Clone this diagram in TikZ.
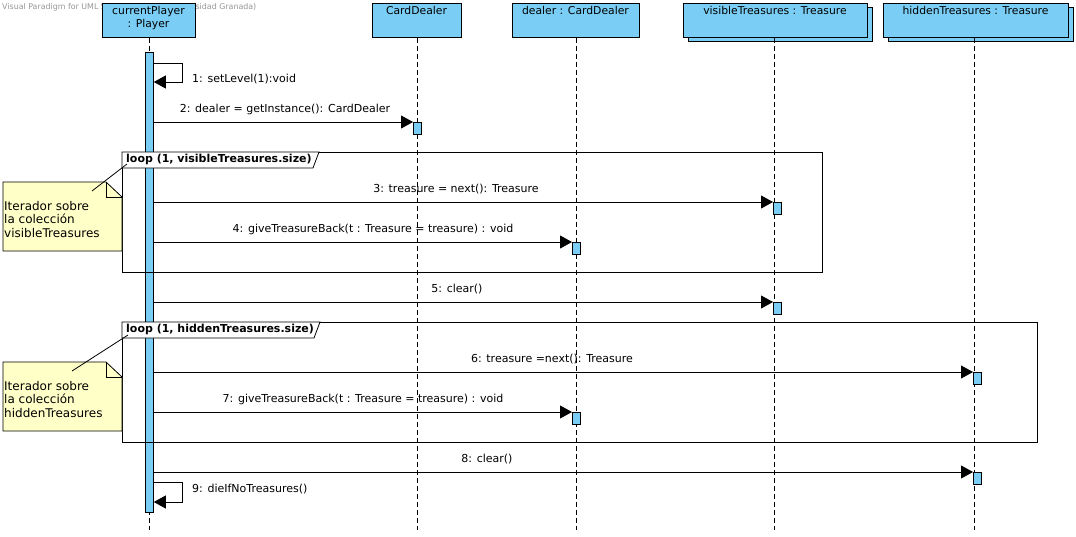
\documentclass[tikz,border=0pt]{standalone}
\usepackage{fontspec}
\setmainfont{DejaVu Sans}
\usetikzlibrary{arrows.meta}
\definecolor{vpblue}{RGB}{122,206,245}
\definecolor{notefill}{RGB}{255,255,200}
\definecolor{wmgray}{RGB}{150,150,150}

\begin{document}
\begin{tikzpicture}[x=1pt,y=-1pt,
  objbox/.style={draw, fill=vpblue, line width=1pt, inner sep=0pt, anchor=north west},
  objtext/.style={font=\fontsize{10.8}{13}\selectfont, align=center, inner sep=0pt, anchor=north},
  lifeline/.style={line width=0.8pt, dash pattern=on 5pt off 3pt},
  actbar/.style={draw, fill=vpblue, line width=0.8pt, inner sep=0pt, minimum width=8pt, minimum height=12pt, anchor=north west},
  msg/.style={line width=0.8pt, -{Triangle[length=12pt,width=13pt]}},
  msglabel/.style={font=\fontsize{11}{12}\selectfont, inner sep=0pt},
  frame/.style={draw, line width=0.8pt, inner sep=0pt, anchor=north west},
  frametab/.style={draw, fill=white, line width=0.8pt},
  framelabel/.style={font=\bfseries\fontsize{11}{12}\selectfont, inner sep=0pt, anchor=west},
  notebody/.style={draw, fill=notefill, line width=0.8pt},
  notetext/.style={font=\fontsize{12}{13.5}\selectfont, align=left, inner sep=0pt, anchor=north west},
]
\useasboundingbox (0,0) rectangle (1076,536);

% tool watermark, partly hidden behind the first lifeline head
\node[font=\fontsize{7.9}{8}\selectfont, text=wmgray, inner sep=0pt, anchor=west] (wm) at (2,7)
  {Visual Paradigm for UML Standard Edition(Universidad Granada)};

% ---- lifeline heads ----
\node[objbox, minimum width=93pt, minimum height=34pt] (player) at (102,3) {};
\node[objtext] (playerT) at (148.5,6) {currentPlayer\\: Player};

\node[objbox, minimum width=89pt, minimum height=34pt] (cd) at (372,3) {};
\node[objtext] (cdT) at (416.5,6) {CardDealer};

\node[objbox, minimum width=127pt, minimum height=34pt] (dealer) at (512,3) {};
\node[objtext] (dealerT) at (575.5,6) {dealer : CardDealer};

\node[objbox, minimum width=184pt, minimum height=34pt] (visB) at (688,7) {};
\node[objbox, minimum width=184pt, minimum height=34pt] (vis) at (683,3) {};
\node[objtext] (visT) at (775,6) {visibleTreasures : Treasure};

\node[objbox, minimum width=185pt, minimum height=34pt] (hidB) at (888,7) {};
\node[objbox, minimum width=185pt, minimum height=34pt] (hid) at (883,3) {};
\node[objtext] (hidT) at (975.5,6) {hiddenTreasures : Treasure};

% ---- lifelines ----
\coordinate (playerEnd) at (149,530);
\coordinate (cdEnd) at (417,530);
\coordinate (dealerEnd) at (576,530);
\coordinate (visEnd) at (774,530);
\coordinate (hidEnd) at (974,530);
\draw[lifeline] (player.south -| playerEnd) -- (playerEnd);
\draw[lifeline] (cd.south -| cdEnd) -- (cdEnd);
\draw[lifeline] (dealer.south -| dealerEnd) -- (dealerEnd);
\draw[lifeline] (vis.south -| visEnd) -- (visEnd);
\draw[lifeline] (hid.south -| hidEnd) -- (hidEnd);

% ---- activation bars ----
\node[actbar, minimum height=460pt] (pbar) at (145,52) {};
\node[actbar] (a2) at (413,122) {};
\node[actbar] (a3) at (773,202) {};
\node[actbar] (a4) at (572,242) {};
\node[actbar] (a5) at (773,302) {};
\node[actbar] (a6) at (973,372) {};
\node[actbar] (a7) at (572,412) {};
\node[actbar] (a8) at (973,472) {};

% ---- combined fragments ----
\node[frame, minimum width=700pt, minimum height=120pt] (loop1) at (122,152) {};
\draw[frametab] (122,152) -- (319,152) -- (313,168) -- (122,168) -- cycle;
\node[framelabel] (loop1T) at (126,159.5) {loop (1, visibleTreasures.size)};

\node[frame, minimum width=915pt, minimum height=120pt] (loop2) at (122,322) {};
\draw[frametab] (122,322) -- (320,322) -- (314,338) -- (122,338) -- cycle;
\node[framelabel] (loop2T) at (126,329.5) {loop (1, hiddenTreasures.size)};

% ---- messages ----
\draw[msg] (pbar.east |- 0,63) -- (182,63) -- (182,82) -- (pbar.east |- 0,82);
\node[msglabel, anchor=west] (m1) at (192,79.5) {1: setLevel(1):void};

\draw[msg] (pbar.east |- a2.north west) -- (a2.north west);
\node[msglabel] (m2) at (285,109.5) {2: dealer = getInstance(): CardDealer};

\draw[msg] (pbar.east |- a3.north west) -- (a3.north west);
\node[msglabel] (m3) at (456,189.5) {3: treasure = next(): Treasure};

\draw[msg] (pbar.east |- a4.north west) -- (a4.north west);
\node[msglabel] (m4) at (373,229.5) {4: giveTreasureBack(t : Treasure = treasure) : void};

\draw[msg] (pbar.east |- a5.north west) -- (a5.north west);
\node[msglabel] (m5) at (457,289.5) {5: clear()};

\draw[msg] (pbar.east |- a6.north west) -- (a6.north west);
\node[msglabel] (m6) at (552,359.5) {6: treasure =next(): Treasure};

\draw[msg] (pbar.east |- a7.north west) -- (a7.north west);
\node[msglabel] (m7) at (363,399.5) {7: giveTreasureBack(t : Treasure = treasure) : void};

\draw[msg] (pbar.east |- a8.north west) -- (a8.north west);
\node[msglabel] (m8) at (487,459.5) {8: clear()};

\draw[msg] (pbar.east |- 0,482) -- (182,482) -- (182,502) -- (pbar.east |- 0,502);
\node[msglabel, anchor=west] (m9) at (192,489) {9: dieIfNoTreasures()};

% ---- notes ----
\draw[notebody] (3,182) -- (106,182) -- (122,197) -- (122,251) -- (3,251) -- cycle;
\draw[line width=0.8pt] (106,182) -- (106,197) -- (122,197);
\node[notetext] (note1) at (4,201) {Iterador sobre\\la colección\\visibleTreasures};
\coordinate (note1a) at (92,191);
\coordinate (note1b) at (127,164);
\draw[line width=0.8pt] (note1a) -- (note1b);

\draw[notebody] (3,362) -- (106,362) -- (122,377) -- (122,431) -- (3,431) -- cycle;
\draw[line width=0.8pt] (106,362) -- (106,377) -- (122,377);
\node[notetext] (note2) at (4,381) {Iterador sobre\\la colección\\hiddenTreasures};
\coordinate (note2a) at (72,371);
\coordinate (note2b) at (128,335);
\draw[line width=0.8pt] (note2a) -- (note2b);
\end{tikzpicture}
\end{document}
